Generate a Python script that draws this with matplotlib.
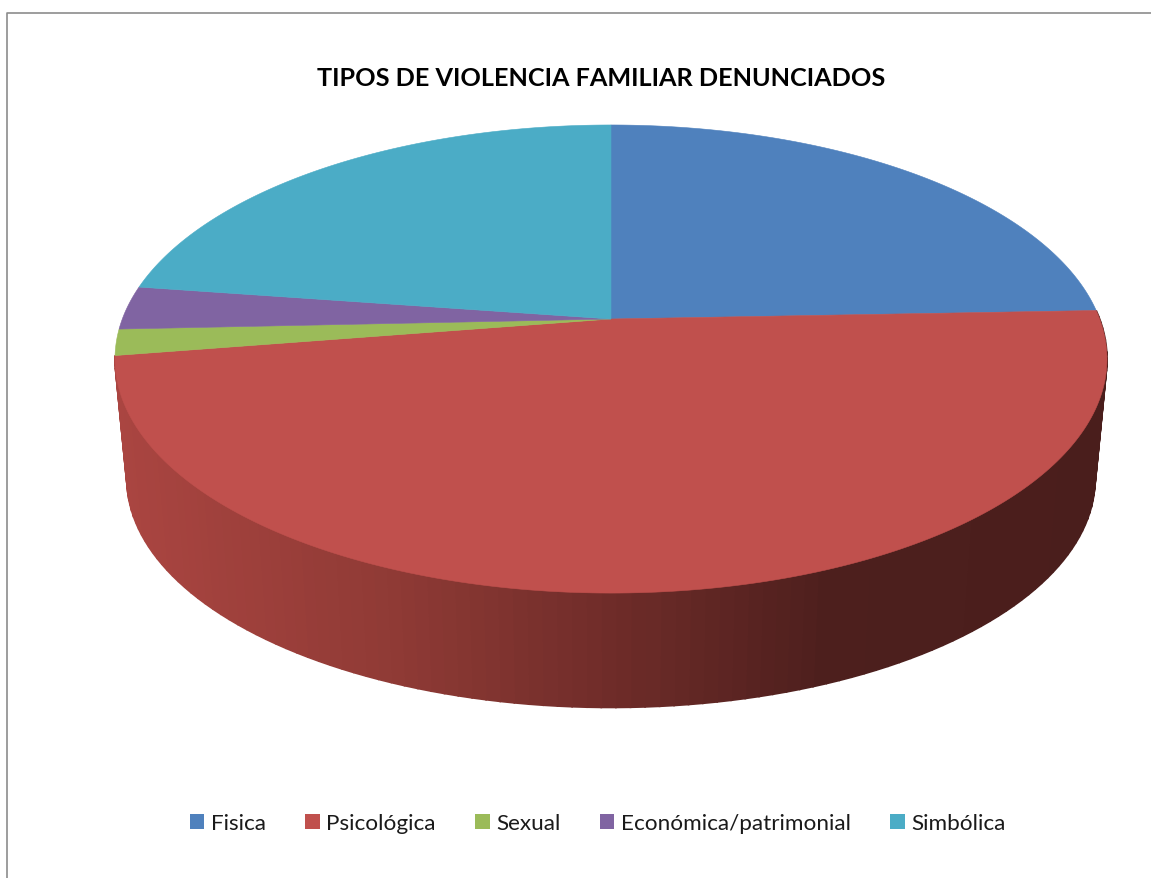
from matplotlib import pyplot
from matplotlib.colors import LinearSegmentedColormap
from matplotlib.patches import Patch
import numpy as np

categories = ["Fisica", "Psicológica", "Sexual", "Económica/patrimonial", "Simbólica"]
shares = [24.4, 48.1, 1.8, 3.0, 22.7]
colors = ["#4f81bd", "#c0504d", "#9bbb59", "#8064a2", "#4bacc6"]
title = "TIPOS DE VIOLENCIA FAMILIAR DENUNCIADOS"

pyplot.rcParams["font.family"] = ["Lato", "DejaVu Sans"]

# perspective of the disc, in pixels of the picture
center_x = 611
center_y = 320
persp = 0.171
scale_x = 488.7
scale_y = 227.2
# the lower rim is a bit smaller and lies further down
rim_scale = 0.976
rim_y = 441


def project(theta, lower=False):
    x = np.sin(theta)
    y = np.cos(theta)
    px = scale_x*x/(1 + persp*y)
    py = scale_y*y/(1 + persp*y)
    if lower:
        return center_x + rim_scale*px, rim_y - rim_scale*py
    return center_x + px, center_y - py


side_cmap = LinearSegmentedColormap.from_list(
    "side",
    [
        (0.0, "#aa4541"),
        (0.28, "#8f3a35"),
        (0.50, "#6f2c29"),
        (0.72, "#4d1f1d"),
        (1.0, "#4a1e1c"),
    ],
)

fig, ax = pyplot.subplots(figsize=(11.51, 8.79), dpi=100)
fig.subplots_adjust(left=0, right=1, top=1, bottom=0)
ax.set_xlim(0, 1151)
ax.set_ylim(879, 0)
ax.axis("off")

# outer frame, only the top and left sides are in the picture
ax.plot([7, 7, 1151], [879, 14, 14], color="#8c8c8c", lw=1.2, zorder=1)

angles = np.radians(np.cumsum([0] + shares)*3.6)

# side wall of the biggest slice
start, stop = angles[1], angles[2]
steps = np.linspace(start, stop, 120)
for t0, t1 in zip(steps[:-1], steps[1:]):
    tx0, ty0 = project(t0)
    tx1, ty1 = project(t1)
    bx0, by0 = project(t0, lower=True)
    bx1, by1 = project(t1, lower=True)
    level = np.clip((1107 - (tx0 + tx1)/2)/992, 0, 1)
    ax.fill(
        [tx0, tx1, bx1, bx0],
        [ty0, ty1, by1, by0],
        color=side_cmap(1 - level),
        lw=1.2,
        zorder=2,
    )

# top face
for i, col in enumerate(colors):
    theta = np.linspace(angles[i], angles[i + 1], 200)
    xs, ys = project(theta)
    ax.fill(
        np.r_[center_x, xs],
        np.r_[center_y, ys],
        color=col,
        lw=0.4,
        zorder=3,
    )

ax.text(
    601,
    78.5,
    title,
    ha="center",
    va="center",
    fontsize=18.15,
    fontweight="bold",
    color="black",
)

handles = [Patch(facecolor=c, edgecolor="none") for c in colors]
ax.legend(
    handles,
    categories,
    loc="center",
    bbox_to_anchor=(597.5/1151, 1 - 824/879),
    ncols=5,
    frameon=False,
    fontsize=16.2,
    handlelength=0.65,
    handleheight=0.65,
    handletextpad=0.28,
    columnspacing=1.75,
    labelcolor="#1a1a1a",
)

fig.savefig("out.png", dpi=100)
